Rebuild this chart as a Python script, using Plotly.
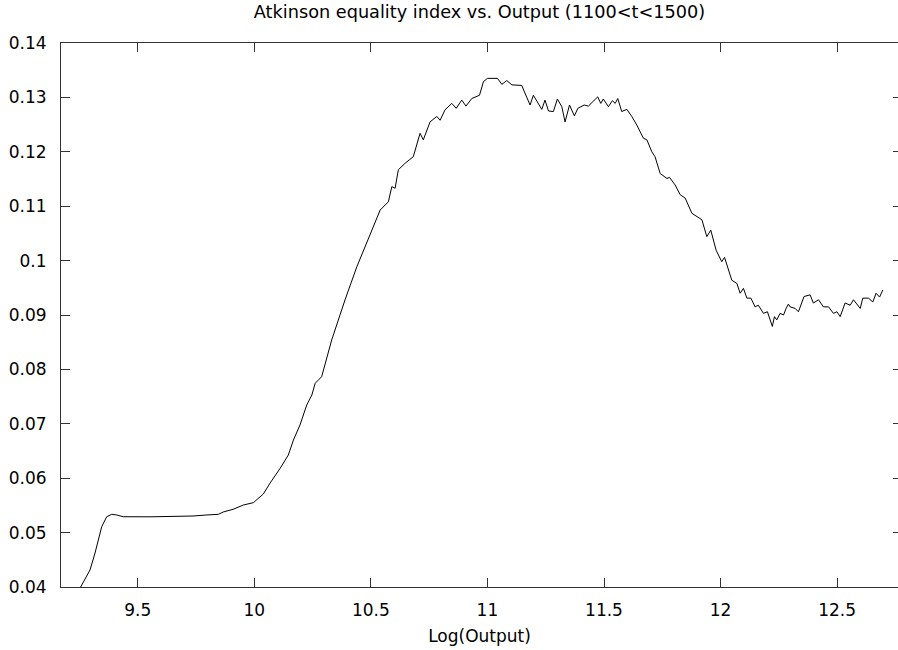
import plotly.graph_objects as go

# Data
log_output = [
    9.171, 9.20, 9.2555, 9.2954, 9.3169, 9.3456, 9.367, 9.3885, 9.410, 9.438,
    9.553, 9.65, 9.737, 9.796, 9.846, 9.867, 9.909, 9.953, 9.996, 10.039,
    10.068, 10.111, 10.146, 10.168, 10.196, 10.225, 10.247, 10.261, 10.289, 10.332,
    10.389, 10.440, 10.489, 10.540, 10.575, 10.590, 10.604, 10.618, 10.647, 10.682,
    10.711, 10.725, 10.754, 10.783, 10.797, 10.818, 10.847, 10.866, 10.890, 10.908,
    10.933, 10.966, 10.983, 11.000, 11.043, 11.062, 11.083, 11.105, 11.147, 11.169,
    11.183, 11.197, 11.233, 11.247, 11.262, 11.283, 11.300, 11.319, 11.333, 11.352,
    11.373, 11.388, 11.415, 11.433, 11.473, 11.486, 11.497, 11.519, 11.536, 11.548,
    11.559, 11.576, 11.598, 11.619, 11.641, 11.669, 11.684, 11.705, 11.719, 11.741,
    11.770, 11.781, 11.805, 11.827, 11.848, 11.877, 11.920, 11.941, 11.958, 11.981,
    12.005, 12.017, 12.048, 12.070, 12.084, 12.098, 12.113, 12.130, 12.148, 12.162,
    12.184, 12.201, 12.222, 12.231, 12.241, 12.255, 12.270, 12.281, 12.291, 12.298,
    12.320, 12.334, 12.358, 12.384, 12.398, 12.420, 12.441, 12.463, 12.484, 12.499,
    12.513, 12.534, 12.556, 12.570, 12.599, 12.610, 12.634, 12.653, 12.667, 12.682,
    12.696,
]
atkinson = [
    0.0370, 0.0385, 0.0400, 0.04313, 0.04625, 0.05108, 0.05292, 0.05336, 0.05324, 0.05292,
    0.05290, 0.05292, 0.05305, 0.05324, 0.05336, 0.05379, 0.05428, 0.05507, 0.0555, 0.0571,
    0.05912, 0.06182, 0.06426, 0.06702, 0.06978, 0.07346, 0.07529, 0.07744, 0.07866, 0.0854,
    0.09276, 0.09888, 0.1041, 0.1093, 0.1108, 0.1136, 0.1133, 0.1167, 0.1179, 0.1191,
    0.1234, 0.1222, 0.1255, 0.1265, 0.1258, 0.1277, 0.1289, 0.1280, 0.1295, 0.1284,
    0.1298, 0.1304, 0.1329, 0.1335, 0.1335, 0.1324, 0.1331, 0.1323, 0.1322, 0.1298,
    0.1286, 0.1304, 0.1278, 0.1295, 0.1275, 0.1274, 0.1297, 0.1283, 0.1255, 0.1286,
    0.1266, 0.1280, 0.1286, 0.1284, 0.1301, 0.1289, 0.1297, 0.1283, 0.1294, 0.1289,
    0.1298, 0.1274, 0.1278, 0.1265, 0.1249, 0.1225, 0.1222, 0.1200, 0.1191, 0.1160,
    0.1151, 0.1153, 0.1139, 0.1121, 0.1115, 0.1087, 0.1075, 0.1044, 0.1056, 0.1019,
    0.0998, 0.1006, 0.0964, 0.0958, 0.0940, 0.0949, 0.0931, 0.0931, 0.0915, 0.0918,
    0.0903, 0.0906, 0.0879, 0.0897, 0.0891, 0.0903, 0.0900, 0.0912, 0.0920, 0.0915,
    0.0912, 0.0906, 0.0934, 0.0937, 0.0922, 0.0928, 0.0915, 0.0915, 0.0903, 0.0906,
    0.0897, 0.0922, 0.0918, 0.0928, 0.0912, 0.0931, 0.0931, 0.0924, 0.0940, 0.0933,
    0.0946,
]

x_tickvals = [9.5, 10, 10.5, 11, 11.5, 12, 12.5]
x_ticktext = ["9.5", "10", "10.5", "11", "11.5", "12", "12.5"]
y_tickvals = [0.04, 0.05, 0.06, 0.07, 0.08, 0.09, 0.10, 0.11, 0.12, 0.13, 0.14]
y_ticktext = ["0.04", "0.05", "0.06", "0.07", "0.08", "0.09", "0.1", "0.11", "0.12", "0.13", "0.14"]

x_range = [9.171, 12.761]
y_range = [0.04, 0.14]

FONT = "DejaVu Sans, Verdana, sans-serif"

fig = go.Figure()
fig.add_trace(go.Scatter(
    x=log_output, y=atkinson, mode="lines",
    line=dict(color="black", width=1),
    showlegend=False, hoverinfo="x+y",
))
# invisible trace to anchor the right-hand tick axis
fig.add_trace(go.Scatter(
    x=[log_output[0]], y=[atkinson[0]], yaxis="y2", mode="lines",
    line=dict(color="rgba(0,0,0,0)"), showlegend=False, hoverinfo="skip",
))

fig.update_layout(
    width=898, height=650,
    margin=dict(l=61, r=0, t=43, b=63),
    paper_bgcolor="white", plot_bgcolor="white",
    font=dict(family=FONT, size=17, color="black"),
    title=dict(
        text="Atkinson equality index vs. Output (1100&lt;t&lt;1500)",
        x=0.534, xanchor="center", y=1 - 12 / 650, yanchor="middle",
        yref="container", xref="container",
        font=dict(family=FONT, size=17.7, color="black"),
    ),
    xaxis=dict(
        range=x_range, tickvals=x_tickvals, ticktext=x_ticktext,
        ticks="inside", ticklen=9, tickwidth=1, tickcolor="#333",
        showline=True, linecolor="#333", linewidth=1, mirror="ticks",
        showgrid=False, zeroline=False,
        ticklabelstandoff=8,
        title=dict(text="Log(Output)", standoff=10, font=dict(family=FONT, size=17)),
        tickfont=dict(family=FONT, size=17),
    ),
    yaxis=dict(
        range=y_range, tickvals=y_tickvals, ticktext=y_ticktext,
        ticks="inside", ticklen=9, tickwidth=1, tickcolor="#333",
        showline=True, linecolor="#333", linewidth=1, mirror=False,
        showgrid=False, zeroline=False,
        ticklabelstandoff=10,
        tickfont=dict(family=FONT, size=17),
    ),
    yaxis2=dict(
        range=y_range, tickvals=y_tickvals, overlaying="y", side="right",
        ticks="inside", ticklen=5, tickwidth=1, tickcolor="#333",
        showline=False, showticklabels=False, showgrid=False, zeroline=False,
    ),
)

fig.write_html("out.html")
